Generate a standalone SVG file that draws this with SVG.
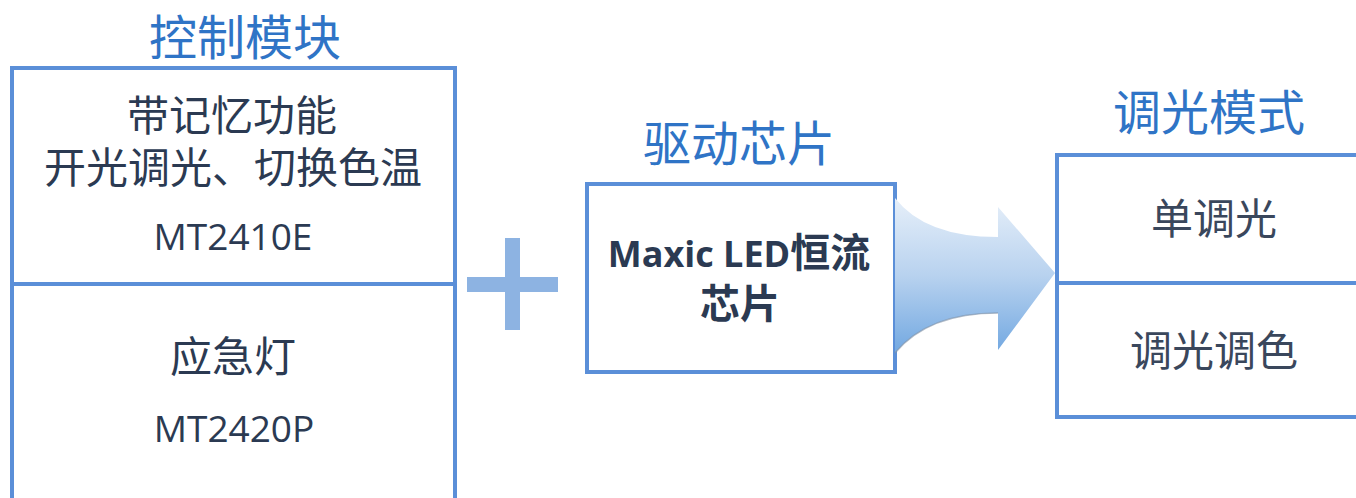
<svg xmlns="http://www.w3.org/2000/svg" width="1356" height="498" viewBox="0 0 1356 498">
  <style>
    .box { fill: #ffffff; stroke: #5b8fd8; stroke-width: 4; }
    .div { stroke: #5b8fd8; stroke-width: 4; fill: none; }
    .title { font-family: "Noto Sans CJK SC", sans-serif; font-size: 48px; fill: #2f74c6; text-anchor: middle; }
    .body { font-family: "Open Sans", "Noto Sans CJK SC", sans-serif; font-size: 42px; fill: #2b3a52; text-anchor: middle; }
    .chip { font-family: "Open Sans", "Noto Sans CJK SC", sans-serif; font-weight: bold; fill: #2b3a52; text-anchor: middle; }
    .code { font-family: "Open Sans", "Noto Sans CJK SC", sans-serif; font-size: 37px; fill: #2b3a52; text-anchor: middle; }
    .mode { font-family: "Noto Sans CJK SC", sans-serif; font-size: 42px; fill: #3a475c; text-anchor: middle; }
    .plus { fill: #8db3e2; }
  </style>
  <defs>
    <linearGradient id="arrowGrad" x1="0" y1="0" x2="0" y2="1">
      <stop offset="0" stop-color="#e6eff9"/>
      <stop offset="0.5" stop-color="#b8d2ef"/>
      <stop offset="1" stop-color="#72a8e1"/>
    </linearGradient>
  </defs>

  <rect width="1356" height="498" fill="#ffffff"/>

  <g id="control-module">
    <text class="title" x="245" y="55">控制模块</text>
    <rect class="box" x="12" y="68" width="443" height="460"/>
    <line class="div" x1="12" y1="284" x2="455" y2="284"/>
    <text class="body" x="232" y="131">带记忆功能</text>
    <text class="body" x="233" y="183">开光调光、切换色温</text>
    <text class="code" x="233" y="250">MT2410E</text>
    <text class="body" x="233" y="372">应急灯</text>
    <text class="code" x="234" y="442">MT2420P</text>
  </g>

  <g id="plus">
    <rect class="plus" x="505" y="238" width="15" height="92"/>
    <rect class="plus" x="467" y="277" width="91" height="15"/>
  </g>

  <g id="driver-chip">
    <text class="title" x="739" y="161">驱动芯片</text>
    <rect class="box" x="587" y="184" width="308" height="188"/>
    <text class="chip" x="739" y="267"><tspan font-size="36px">Maxic LED</tspan><tspan font-size="40px">恒流</tspan></text>
    <text class="chip" x="740" y="318" font-size="40px">芯片</text>
  </g>

  <g id="connectors">
    <path d="M 895 198 Q 925 237 998 237 L 998 207 L 1055 273 L 998 350 L 998 313 Q 928 313 895 353 Z" fill="url(#arrowGrad)"/>
    <path d="M 998 313 Q 928 313 895 353" fill="none" stroke="#7f8fa3" stroke-width="1.5" opacity="0.6"/>
  </g>

  <g id="dimming-mode">
    <text class="title" x="1209" y="130">调光模式</text>
    <rect class="box" x="1057" y="155" width="320" height="262"/>
    <line class="div" x1="1057" y1="283" x2="1377" y2="283"/>
    <text class="mode" x="1214" y="234">单调光</text>
    <text class="mode" x="1214" y="366">调光调色</text>
  </g>
</svg>
